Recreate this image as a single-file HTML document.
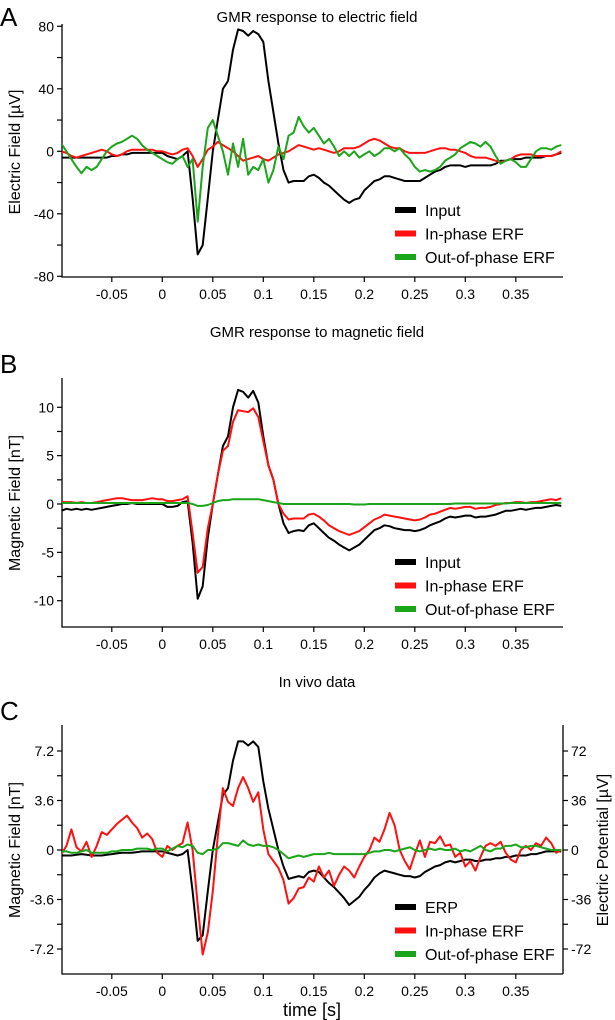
<!DOCTYPE html>
<html><head><meta charset="utf-8">
<style>
html,body{margin:0;padding:0;background:#fff;}
svg{display:block;font-family:"Liberation Sans",Arial,sans-serif;}
</style></head>
<body>
<svg id="fig" width="615" height="1020" viewBox="0 0 615 1020" xmlns="http://www.w3.org/2000/svg">
<defs><clipPath id="clip"><rect x="62" y="0" width="502" height="1020"/></clipPath></defs>
</svg>
<script>
// ---- data ----
const xTicks = [-0.05,0,0.05,0.1,0.15,0.2,0.25,0.3,0.35];
const xTickLabels = ["-0.05","0","0.05","0.1","0.15","0.2","0.25","0.3","0.35"];
const tStart = -0.1, tStep = 0.005;

const inputA = [-4,-4,-4,-4,-4,-4,-4,-4,-4,-4,-3,-3,-2,-2,-1,-1,-1,-1,-1,-1,
 -1,-3,-4,-5,-3,0,-30,-66,-60,-30,0,20,40,45,65,78,77,74,77,75,
 70,45,25,5,-12,-20,-19,-19,-19,-16,-15,-17,-20,-22,-25,-28,-31,-33,-31,-30,
 -25,-22,-19,-18,-16,-16,-17,-18,-19,-19,-19,-19,-17,-15,-13,-12,-10,-9,-9,-9,
 -10,-9,-9,-9,-9,-9,-8,-6,-6,-5,-5,-5,-4,-4,-4,-4,-3,-3,-2,-1];
const inPhaseA = [0,-1,-3,-4,-3,-2,-1,0,1,0,-2,-3,-2,0,1,1,1,1,1,0,
 0,-1,-2,-1,1,2,-3,-10,-5,1,3,6,4,2,0,-3,-6,-5,-4,-3,
 -5,-6,-4,-2,-1,0,2,4,3,2,1,2,1,0,-1,0,2,2,2,3,
 5,7,8,7,5,3,2,2,0,-1,-1,-1,-1,0,1,2,2,1,1,0,
 -1,-3,-4,-4,-4,-5,-6,-7,-6,-5,-3,-2,-2,-2,-3,-3,-3,-3,-2,0];
const outPhaseA = [5,0,-5,-10,-14,-10,-12,-10,-5,0,3,5,6,8,10,8,4,1,-1,-3,
 -5,-7,-8,-5,-3,-10,-5,-45,-10,15,20,10,0,-15,5,-10,8,-15,-10,-12,
 -5,-20,-12,3,-5,10,12,22,16,12,15,10,5,8,3,-3,0,-3,0,-4,
 -2,0,-3,-1,2,2,0,2,-2,-5,-10,-13,-12,-13,-12,-10,-6,-4,-2,2,
 4,6,5,3,6,3,-3,-8,-6,-5,-7,-10,-10,-5,0,2,2,1,3,4];

const inputB = [-0.7,-0.5,-0.6,-0.5,-0.6,-0.5,-0.6,-0.5,-0.4,-0.3,-0.2,-0.1,0,0,0.1,0,0,0,0,0,
 0,-0.3,-0.3,-0.2,0.2,0.3,-4,-9.8,-8.5,-3.5,0,3,6,7,10,11.8,11.6,11,11.7,10.5,
 7,4,2.5,0,-2,-3,-2.8,-2.7,-2.8,-2.2,-2,-2.5,-3,-3.5,-3.8,-4.2,-4.5,-4.8,-4.5,-4.2,
 -3.7,-3.2,-2.7,-2.5,-2.2,-2.3,-2.5,-2.6,-2.7,-2.7,-2.8,-2.7,-2.5,-2.2,-2,-1.8,-1.5,-1.3,-1.4,-1.3,
 -1.2,-1.2,-1.4,-1.3,-1.3,-1.2,-1.1,-0.9,-0.7,-0.7,-0.6,-0.5,-0.6,-0.5,-0.4,-0.4,-0.3,-0.2,-0.1,-0.2];
const inPhaseB = [0.2,0.2,0.2,0.1,0.2,0.1,0.1,0.2,0.3,0.4,0.5,0.6,0.6,0.5,0.4,0.4,0.4,0.5,0.6,0.5,
 0.5,0.3,0.3,0.4,0.5,0.8,-3,-7.1,-6.5,-2.5,0,3,5.5,6,8.5,9.7,9.6,9.5,9.9,9,
 6.5,4,2.5,0,-1,-1.6,-1.5,-1.5,-1.5,-1.1,-1,-1.3,-1.7,-2.2,-2.5,-2.8,-3,-3.2,-3,-2.8,
 -2.4,-2,-1.6,-1.4,-1.1,-1.2,-1.3,-1.4,-1.5,-1.6,-1.7,-1.6,-1.4,-1.1,-1,-0.8,-0.6,-0.4,-0.5,-0.4,
 -0.3,-0.3,-0.5,-0.4,-0.4,-0.3,-0.1,0,0.1,0.1,0.2,0.2,0.1,0.2,0.2,0.3,0.4,0.5,0.4,0.6];
const outPhaseB = [0.1,0.1,0.1,0.1,0.1,0.1,0.1,0.1,0.1,0.1,0.1,0.1,0.1,0.1,0.1,0.1,0.1,0.1,0.1,0.1,
 0.1,0.1,0.1,0.1,0.1,0.1,0,-0.2,-0.2,-0.1,0.1,0.3,0.4,0.4,0.5,0.5,0.5,0.5,0.5,0.5,
 0.4,0.3,0.2,0.1,0,0,0,0,0,0,0,0,0,0,0,0,0,0,-0.05,-0.05,
 -0.05,0,0,0,0,0,0,0,0,0,0,0,0,0,0,0,0,0,0.05,0.05,
 0.05,0.05,0.05,0.05,0.05,0.05,0.05,0.05,0.05,0.1,0.1,0.1,0.1,0.1,0.1,0.1,0.1,0.1,0.1,0.1];

const erpC = [-0.4,-0.4,-0.4,-0.35,-0.3,-0.35,-0.4,-0.4,-0.4,-0.35,-0.3,-0.25,-0.2,-0.2,-0.2,-0.15,-0.1,-0.1,-0.1,-0.1,
 -0.1,-0.2,-0.3,-0.4,-0.3,0,-3,-6.6,-6.2,-3,0,2,4,4.5,6.5,7.9,7.9,7.6,7.9,7.5,
 5,3,1.5,0,-1.2,-2.1,-2,-1.9,-2,-1.6,-1.5,-1.6,-2,-2.4,-2.7,-3.1,-3.5,-4,-3.7,-3.4,
 -2.9,-2.5,-2,-1.7,-1.5,-1.6,-1.7,-1.8,-1.9,-1.9,-2,-1.9,-1.6,-1.4,-1.2,-1.1,-0.9,-0.8,-0.9,-0.8,
 -0.7,-0.7,-0.8,-0.8,-0.7,-0.7,-0.6,-0.6,-0.5,-0.5,-0.4,-0.4,-0.4,-0.3,-0.3,-0.2,-0.1,-0.1,-0.1,-0.1];
const inPhaseC = [-0.3,0.3,1.5,0.2,-0.1,0.6,-0.5,0.3,1.3,1.1,1.5,1.9,2.2,2.5,2.0,1.6,0.9,1.2,0.8,-0.2,
 -0.5,0.3,0,0.3,0.5,2.0,0,-4,-7.6,-6,-3,1,4.5,3.5,3.2,4.5,5.3,4.5,3.5,4.2,
 1.5,-0.3,-0.8,-1.3,-2.2,-3.9,-3.5,-2.8,-2.7,-2.0,-2.3,-1.2,-2.0,-1.5,-2.6,-1.8,-1.2,-1.5,-2.0,-1.2,
 -0.5,0,0.9,0.6,1.5,2.7,1.8,0,-0.8,-1.4,-0.3,0.7,-0.5,0.6,0.5,1.0,0.3,0.4,-0.5,-0.2,
 -1.2,-0.8,-1.5,-0.5,0.3,0.5,0.3,0.6,-0.2,-0.7,-0.9,0,0.3,0,0.5,0.3,0.9,0.5,-0.2,0];
const outPhaseC = [-0.1,-0.1,-0.2,-0.2,-0.1,0,-0.2,-0.2,-0.2,-0.2,-0.1,-0.1,0,0,0,0.1,0.1,0.1,0,0.1,
 0.1,-0.1,0.1,0.3,0.2,0.4,0.3,-0.2,-0.3,0,0,0.1,0.5,0.5,0.4,0.3,0.7,0.4,0.3,0.4,
 0.3,0.3,0.2,0,-0.3,-0.6,-0.5,-0.4,-0.5,-0.4,-0.3,-0.3,-0.3,-0.2,-0.3,-0.3,-0.3,-0.3,-0.3,-0.3,
 -0.3,-0.2,-0.1,-0.1,0,0,-0.1,0,0.1,0.2,0,-0.1,0,0.1,0,0.1,0,0,0.1,-0.1,
 0,-0.1,0.1,0.3,0,-0.1,0.1,0.1,0.3,0.3,0.4,0.2,0.2,0.3,0.3,0.2,0.1,0,0,0];

const yTicksA = [80,40,0,-40,-80];
const yTicksB = [10,5,0,-5,-10];
const yTicksC = [7.2,3.6,0,-3.6,-7.2];
const yTicksCRight = [72,36,0,-36,-72];

// ---- drawing ----
const NS = "http://www.w3.org/2000/svg";
const svg = document.getElementById('fig');
const X0 = 62, X1 = 563;
function xS(t){ return 162.3 + t*1010; }
function mk(tag, attrs, parent){
  const e = document.createElementNS(NS, tag);
  for (const k in attrs) e.setAttribute(k, attrs[k]);
  (parent||svg).appendChild(e);
  return e;
}
function txt(s, attrs, parent){ const e = mk('text', attrs, parent); e.textContent = s; return e; }

function panel(cfg){
  const g = mk('g', {});
  
  
  const yS = v => cfg.y0 - v*cfg.k;
  // title & letter
  const ti = txt(cfg.title, {x:317, y:cfg.titleY, 'font-size':15, 'text-anchor':'middle', fill:'#000'}, g);
  
  
  const le = txt(cfg.letter, {x:0, y:cfg.letterY, 'font-size':26, fill:'#000'}, g);
  
  
  // axes
  const ax = mk('path', {d:`M${X0},${cfg.top}V${cfg.bottom}H${X1}`, stroke:'#000', 'stroke-width':1.3, fill:'none'}, g);
  
  
  if (cfg.right){
    const ra = mk('path', {d:`M${X1},${cfg.top}V${cfg.bottom}`, stroke:'#000', 'stroke-width':1.3}, g);
    
    
  }
  // x ticks
  xTicks.forEach((t,i)=>{
    mk('line', {x1:xS(t), x2:xS(t), y1:cfg.bottom, y2:cfg.bottom+5, stroke:'#000', 'stroke-width':1.2}, g);
    const l = txt(xTickLabels[i], {x:xS(t), y:cfg.bottom+22, 'font-size':14, 'text-anchor':'middle', fill:'#000'}, g);
    
    
  });
  // y ticks (major + minor)
  const step = cfg.yTicks[0]-cfg.yTicks[1];
  for (let v = cfg.yTicks[cfg.yTicks.length-1]; v <= cfg.yTicks[0]+1e-9; v += step/2){
    mk('line', {x1:X0-5, x2:X0, y1:yS(v), y2:yS(v), stroke:'#000', 'stroke-width':1.2}, g);
    if (cfg.right) mk('line', {x1:X1, x2:X1+5, y1:yS(v), y2:yS(v), stroke:'#000', 'stroke-width':1.2}, g);
  }
  cfg.yTicks.forEach((v,i)=>{
    const l = txt(String(v), {x:X0-8, y:yS(v)+5, 'font-size':14, 'text-anchor':'end', fill:'#000'}, g);
    
    
    if (cfg.right){
      const r = txt(String(cfg.rightTicks[i]), {x:X1+8, y:yS(v)+5, 'font-size':14, 'text-anchor':'start', fill:'#000'}, g);
      
      
    }
  });
  const yl = txt(cfg.ylabel, {x:0, y:0, 'font-size':16, 'text-anchor':'middle', fill:'#000', 'xml:space':'preserve', transform:`translate(20,${cfg.ylabelY}) rotate(-90)`}, g);
  
  
  if (cfg.right){
    const yr = txt('Electric Potential [µV]', {x:0, y:0, 'font-size':16, 'text-anchor':'middle', fill:'#000', transform:`translate(608,${cfg.ylabelY}) rotate(-90)`}, g);
    
    
  }
  // series
  const cg = mk('g', {'clip-path':'url(#clip)'}, g);
  cfg.series.forEach(s=>{
    const d = s.data.map((v,i)=>(i?'L':'M')+xS(tStart+i*tStep).toFixed(1)+','+yS(v).toFixed(1)).join('');
    const p = mk('path', {d:d, stroke:s.color, 'stroke-width':2, fill:'none', 'stroke-linejoin':'round'}, cg);
    
    
  });
  // legend
  const lg = mk('g', {}, g);
  
  
  cfg.legend.forEach((n,i)=>{
    const yy = cfg.legY + i*23.5;
    mk('rect', {x:395, y:yy-3, width:21, height:6, fill:cfg.series[i].color}, lg);
    const t = txt(n, {x:425, y:yy+6, 'font-size':16, fill:'#000'}, lg);
    
    
  });
}

panel({id:'panel-a', letter:'A', letterY:26, title:'GMR response to electric field', titleY:22,
  y0:151.3, k:1.5625, top:24, bottom:277, yTicks:yTicksA, ylabel:'Electric  Field [µV]', ylabelY:152,
  series:[{name:'input-line-a',data:inputA,color:'#000'},{name:'in-phase-line-a',data:inPhaseA,color:'#ff1010'},{name:'out-of-phase-line-a',data:outPhaseA,color:'#1aa51a'}],
  legend:['Input','In-phase ERF','Out-of-phase ERF'], legY:210});
panel({id:'panel-b', letter:'B', letterY:373, title:'GMR response to magnetic field', titleY:337,
  y0:504, k:9.67, top:378, bottom:627, yTicks:yTicksB, ylabel:'Magnetic  Field [nT]', ylabelY:503,
  series:[{name:'input-line-b',data:inputB,color:'#000'},{name:'in-phase-line-b',data:inPhaseB,color:'#ff1010'},{name:'out-of-phase-line-b',data:outPhaseB,color:'#1aa51a'}],
  legend:['Input','In-phase ERF','Out-of-phase ERF'], legY:562});
panel({id:'panel-c', letter:'C', letterY:720, title:'In vivo data', titleY:687,
  y0:850, k:13.75, top:725, bottom:974, yTicks:yTicksC, right:true, rightTicks:yTicksCRight, ylabel:'Magnetic Field [nT]', ylabelY:850,
  series:[{name:'erp-line-c',data:erpC,color:'#000'},{name:'in-phase-line-c',data:inPhaseC,color:'#ff1010'},{name:'out-of-phase-line-c',data:outPhaseC,color:'#1aa51a'}],
  legend:['ERP','In-phase ERF','Out-of-phase ERF'], legY:907});
const xt = txt('time [s]', {x:312, y:1016, 'font-size':18, 'text-anchor':'middle', fill:'#000'});


</script>
</body></html>
